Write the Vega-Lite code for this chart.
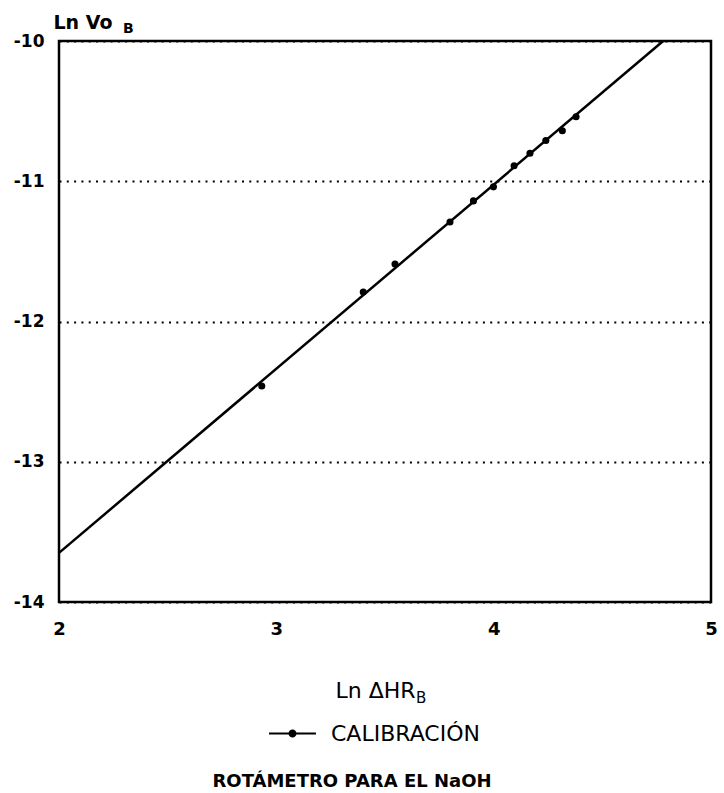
{
  "$schema": "https://vega.github.io/schema/vega-lite/v6.json",
  "width": 652,
  "height": 561,
  "autosize": {"type": "none"},
  "padding": {"left": 59, "top": 41, "right": 13, "bottom": 191},
  "background": "white",
  "config": {
    "font": "DejaVu Sans",
    "view": {"stroke": "black", "strokeWidth": 2.5},
    "axis": {"domain": false, "ticks": false, "labelFlush": false, "labelFont": "DejaVu Sans", "labelFontWeight": "bold", "labelColor": "black", "titleColor": "black"}
  },
  "title": {
    "text": "ROTÁMETRO PARA EL NaOH",
    "orient": "bottom",
    "anchor": "middle",
    "dx": -33,
    "offset": 28,
    "font": "DejaVu Sans",
    "fontSize": 18,
    "fontWeight": "bold",
    "color": "black"
  },
  "datasets": {
    "fit": [
      {"lnH": 2.0, "lnV": -13.65},
      {"lnH": 4.78, "lnV": -10.0}
    ],
    "obs": [
      {"lnH": 2.933, "lnV": -12.46},
      {"lnH": 3.400, "lnV": -11.79},
      {"lnH": 3.546, "lnV": -11.59},
      {"lnH": 3.799, "lnV": -11.29},
      {"lnH": 3.907, "lnV": -11.14},
      {"lnH": 3.999, "lnV": -11.04},
      {"lnH": 4.094, "lnV": -10.89},
      {"lnH": 4.167, "lnV": -10.80},
      {"lnH": 4.240, "lnV": -10.71},
      {"lnH": 4.316, "lnV": -10.64},
      {"lnH": 4.379, "lnV": -10.54}
    ],
    "sub": [
      {"lnH": 2, "lnV": -10, "t": "B", "w": "y"},
      {"lnH": 2, "lnV": -14, "t": "B", "w": "x"}
    ]
  },
  "layer": [
    {
      "data": {"name": "fit"},
      "mark": {"type": "line", "color": "black", "strokeWidth": 2.5},
      "encoding": {
        "x": {
          "field": "lnH", "type": "quantitative",
          "scale": {"domain": [2, 5], "nice": false, "zero": false},
          "axis": {
            "values": [2, 3, 4, 5], "format": "d", "grid": false, "labelFontSize": 18, "labelPadding": 18,
            "title": "Ln ΔHR", "titleFont": "DejaVu Sans", "titleFontSize": 22, "titleFontWeight": "normal",
            "titleAlign": "left", "titleAnchor": null, "titleX": 276, "titleY": 95, "titleBaseline": "alphabetic"
          }
        },
        "y": {
          "field": "lnV", "type": "quantitative",
          "scale": {"domain": [-14, -10], "nice": false, "zero": false},
          "axis": {
            "values": [-10, -11, -12, -13, -14], "labelExpr": "'-' + abs(datum.value)",
            "grid": true, "gridColor": "black", "gridDash": [2, 5.3], "gridWidth": 2,
            "labelFontSize": 17, "labelPadding": 15,
            "title": "Ln Vo", "titleFont": "DejaVu Sans", "titleFontSize": 19, "titleFontWeight": "bold",
            "titleAngle": 0, "titleAlign": "left", "titleAnchor": null, "titleX": -6, "titleY": -13, "titleBaseline": "alphabetic"
          }
        }
      }
    },
    {
      "data": {"name": "obs"},
      "mark": {"type": "point", "filled": true, "size": 50, "opacity": 1},
      "encoding": {
        "x": {"field": "lnH", "type": "quantitative"},
        "y": {"field": "lnV", "type": "quantitative"},
        "color": {
          "datum": "CALIBRACIÓN",
          "scale": {"range": ["black"]},
          "legend": {
            "title": null,
            "orient": "none",
            "legendX": 209,
            "legendY": 668,
            "padding": 0,
            "symbolType": "M-1,0L1,0M0.13,0A0.13,0.13,0,1,1,-0.13,0A0.13,0.13,0,1,1,0.13,0Z",
            "symbolSize": 2200,
            "symbolStrokeColor": "black",
            "symbolFillColor": "black",
            "symbolStrokeWidth": 2,
            "labelFont": "DejaVu Sans",
            "labelFontSize": 22,
            "labelColor": "black",
            "labelOffset": 14
          }
        }
      }
    },
    {
      "data": {"name": "sub"},
      "transform": [{"filter": "datum.w === 'y'"}],
      "mark": {"type": "text", "align": "left", "baseline": "alphabetic", "dx": 64, "dy": -8, "fontSize": 14, "fontWeight": "bold", "color": "black"},
      "encoding": {
        "x": {"field": "lnH", "type": "quantitative"},
        "y": {"field": "lnV", "type": "quantitative"},
        "text": {"field": "t"}
      }
    },
    {
      "data": {"name": "sub"},
      "transform": [{"filter": "datum.w === 'x'"}],
      "mark": {"type": "text", "align": "left", "baseline": "alphabetic", "dx": 357, "dy": 101, "fontSize": 15, "color": "black"},
      "encoding": {
        "x": {"field": "lnH", "type": "quantitative"},
        "y": {"field": "lnV", "type": "quantitative"},
        "text": {"field": "t"}
      }
    }
  ]
}
